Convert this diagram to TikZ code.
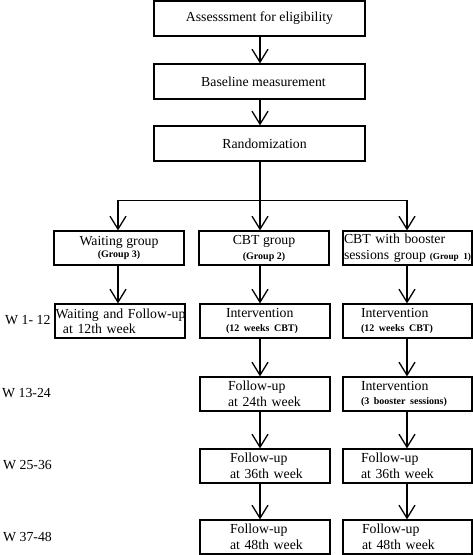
\documentclass[tikz,border=0pt]{standalone}
\usepackage{fontspec}
\setmainfont{Liberation Serif}
\usetikzlibrary{arrows.meta}
\newcommand\fs{\fontsize{13.8}{16}\selectfont}
\newcommand\sm{\fontsize{10}{12}\selectfont\bfseries}
\begin{document}
\begin{tikzpicture}[x=1pt,y=-1pt,
  box/.style={draw, line width=1.2pt, minimum height=34pt, inner ysep=0pt, font=\fs},
  cbox/.style={box, align=center},
  lbox/.style={box, align=left},
  ln/.style={line width=1.3pt, line cap=rect},
  arr/.style={line width=1.3pt, -{Straight Barb[length=13pt,width=16pt,line width=1.3pt]}},
  wlab/.style={anchor=west, inner sep=0pt, font=\fs}]
\useasboundingbox (0,0) rectangle (473,555);

% top chain
\node[cbox, minimum width=211pt, minimum height=35pt] (A) at (259.5,18.5) {Assesssment for eligibility};
\node[cbox, minimum width=211pt, minimum height=35pt] (B) at (259.5,81.5) {\hspace*{8pt}Baseline measurement};
\node[cbox, minimum width=211pt, minimum height=35pt] (C) at (259.5,143.5) {\hspace*{10pt}Randomization};

% groups
\node[cbox, minimum width=130pt] (G3) at (119,248) {Waiting group\\[-4pt]{\sm (Group 3)}};
\node[cbox, minimum width=130pt] (G2) at (264,248) {CBT group\\[-1pt]{\sm (Group 2)}};
\node[lbox, minimum width=129pt, inner xsep=1pt, text width=127pt] (G1) at (407.5,248)
  {\mbox{CBT with booster}\\\mbox{sessions group\hspace{-0.8pt} {\fontsize{9.2}{12}\selectfont\bfseries (Group 1)}}};

% W 1-12
\node[lbox, minimum width=130pt, inner xsep=0.5pt, text width=129pt] (W1) at (120,321)
  {\mbox{Waiting and Follow-up}\\[-1pt]\mbox{\hspace*{7.5pt}at 12th week}};
\node[lbox, minimum width=130pt, inner xsep=26pt, text width=78pt] (I1) at (265,321)
  {\mbox{Intervention}\\[-2pt]\mbox{\sm (12 weeks CBT)}};
\node[lbox, minimum width=129pt, inner xsep=18pt, text width=93pt] (I1b) at (407.5,321)
  {\mbox{Intervention}\\[-2pt]\mbox{\sm (12 weeks CBT)}};

% W 13-24
\node[lbox, minimum width=130pt, inner xsep=28pt, text width=74pt] (F24) at (265,394)
  {\mbox{Follow-up}\\\mbox{at 24th week}};
\node[lbox, minimum width=129pt, inner xsep=18pt, text width=93pt] (I2b) at (407.5,394)
  {\mbox{Intervention}\\[-2pt]\mbox{\sm (3 booster sessions)}};

% W 25-36
\node[lbox, minimum width=130pt, inner xsep=30pt, text width=70pt] (F36) at (265,466)
  {\mbox{Follow-up}\\\mbox{at 36th week}};
\node[lbox, minimum width=129pt, inner xsep=18pt, text width=93pt] (F36b) at (407.5,466)
  {\mbox{Follow-up}\\\mbox{at 36th week}};

% W 37-48
\node[lbox, minimum width=130pt, inner xsep=30pt, text width=70pt] (F48) at (265,537)
  {\mbox{Follow-up}\\\mbox{at 48th week}};
\node[lbox, minimum width=129pt, inner xsep=19pt, text width=91pt] (F48b) at (407.5,537)
  {\mbox{Follow-up}\\\mbox{at 48th week}};

% week labels
\node[wlab] (L1) at (5,320) {W 1- 12};
\node[wlab] (L2) at (2,393) {W 13-24};
\node[wlab] (L3) at (3,465) {W 25-36};
\node[wlab] (L4) at (3,537) {W 37-48};

% connectors
\coordinate (cl) at (118,0);
\coordinate (cm) at (260,0);
\coordinate (cr) at (407,0);
\coordinate (J) at (260,200.7);
\draw[arr] (A.south -| cm) -- (B.north -| cm);
\draw[arr] (B.south -| cm) -- (C.north -| cm);
\draw[ln] (C.south -| cm) -- (J);
\draw[ln] (J -| cl) -- (J -| cr);
\draw[arr] (J -| cl) -- (G3.north -| cl);
\draw[arr] (J) -- (G2.north -| cm);
\draw[arr] (J -| cr) -- (G1.north -| cr);
\draw[arr] (G3.south -| cl) -- (W1.north -| cl);
\draw[arr] (G2.south -| cm) -- (I1.north -| cm);
\draw[arr] (G1.south -| cr) -- (I1b.north -| cr);
\draw[arr] (I1.south -| cm) -- (F24.north -| cm);
\draw[arr] (I1b.south -| cr) -- (I2b.north -| cr);
\draw[arr] (F24.south -| cm) -- (F36.north -| cm);
\draw[arr] (I2b.south -| cr) -- (F36b.north -| cr);
\draw[arr] (F36.south -| cm) -- (F48.north -| cm);
\draw[arr] (F36b.south -| cr) -- (F48b.north -| cr);
\end{tikzpicture}
\end{document}
